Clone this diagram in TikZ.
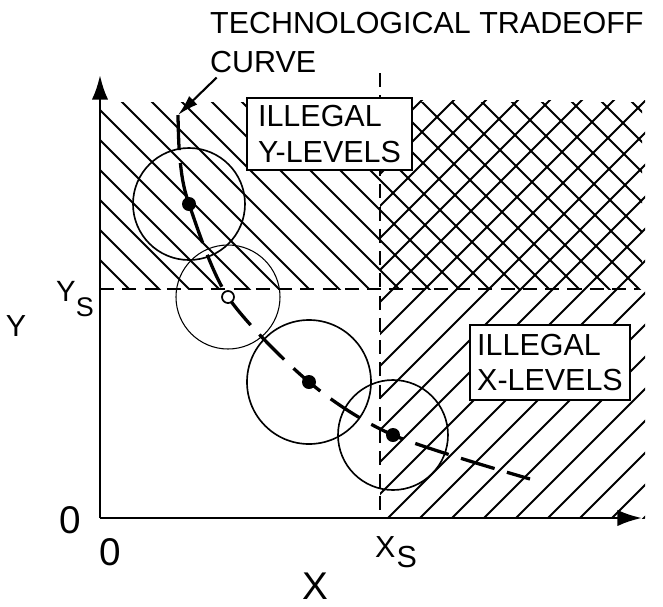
\documentclass[tikz,border=0pt]{standalone}
\usepackage{fontspec}
\setmainfont{Liberation Sans}
\usetikzlibrary{arrows.meta,positioning}

\begin{document}
\begin{tikzpicture}[x=0.03cm, y=-0.03cm,
    lbl/.style={inner sep=0pt, font=\fontsize{26}{31}\selectfont},
    biglbl/.style={inner sep=0pt, font=\fontsize{33}{38}\selectfont},
    levelbox/.style={draw, line width=1.8pt, fill=white, align=left, inner sep=0pt,
        font=\fontsize{26}{30}\selectfont},
    hatchline/.style={line width=1.6pt},
    guide/.style={line width=1.9pt, dash pattern=on 12pt off 7pt},
    axis/.style={line width=2.4pt, -{Latex[length=21pt,width=14pt]}},
    ring/.style={line width=1.4pt},
    tradeoff/.style={line width=2.8pt, dash pattern=on 30pt off 11pt}]
    \useasboundingbox (0,0) rectangle (663,606);

    % reference points
    \coordinate (O) at (100,518);
    \coordinate (xtip) at (642,518);
    \coordinate (ytip) at (100,75);
    \coordinate (ysL) at (100,289);
    \coordinate (ysR) at (638,289);
    \coordinate (xsT) at (380,73);
    \coordinate (xsB) at (380,518);

    % illegal regions
    \begin{scope}
        \clip (100,102) rectangle (642,289);
        \foreach \c in {-190,-160,...,560}
            \draw[hatchline] (\c,0) -- ++(800,800);
    \end{scope}
    \begin{scope}
        \clip (380,100) rectangle (645,518);
        \foreach \c in {490,522,...,1170}
            \draw[hatchline] (\c,0) -- ++(-800,800);
    \end{scope}

    \draw[guide] (ysL) -- (ysR);
    \draw[guide] (xsT) -- (xsB);

    % axes
    \draw[axis] (O) -- (ytip);
    \draw[axis] (O) -- (xtip);

    % operating points
    \coordinate (p1) at (189,204);
    \coordinate (p2) at (228,297);
    \coordinate (p3) at (309,382);
    \coordinate (p4) at (393,435);
    \coordinate (curvetop) at (178,115);
    \coordinate (curveend) at (530,479);

    \draw[ring] (p1) circle[radius=56];
    \draw[line width=0.9pt] (p2) circle[radius=52];
    \draw[ring] (p3) circle[radius=62];
    \draw[ring] (p4) circle[radius=55];

    \draw[tradeoff] plot[smooth] coordinates {(curvetop) (180,160) (p1) (p2) (p3) (p4) (curveend)};

    \fill (p1) circle[radius=7];
    \draw[line width=1.5pt, fill=white] (p2) circle[radius=6];
    \fill (p3) circle[radius=7];
    \fill (p4) circle[radius=7];

    % labels
    \node[lbl, anchor=base west] (title) at (210,33) {TECHNOLOGICAL TRADEOFF};
    \node[lbl, anchor=base west] (curvelbl) at (210,72) {CURVE};
    \draw[line width=1.8pt, -{Latex[length=18pt,width=10pt]}]
        ([xshift=0.2cm,yshift=-0.15cm]curvelbl.south west) -- (curvetop);

    \node[levelbox, minimum width=4.95cm, minimum height=2.16cm] (ybox) at (329.5,134)
        {ILLEGAL\\Y-LEVELS};
    \node[levelbox, minimum width=4.8cm, minimum height=2.25cm] (xbox) at (550,362.5)
        {ILLEGAL\\X-LEVELS};

    \node[lbl] (ylbl) at (16,326) {Y};
    \node[inner sep=0pt, font=\fontsize{25}{28}\selectfont, anchor=base west] (yslbl) at (56,301)
        {Y\raisebox{-13pt}{\fontsize{23}{26}\selectfont S}};
    \node[biglbl] (zeroy) at (70,520) {0};
    \node[biglbl] (zerox) at (110,552) {0};
    \node[lbl, anchor=base west] (xslbl) at (375,557) {X\kern1pt\raisebox{-9pt}{S}};
    \node[biglbl] (xlbl) at (315,586) {X};
\end{tikzpicture}
\end{document}
